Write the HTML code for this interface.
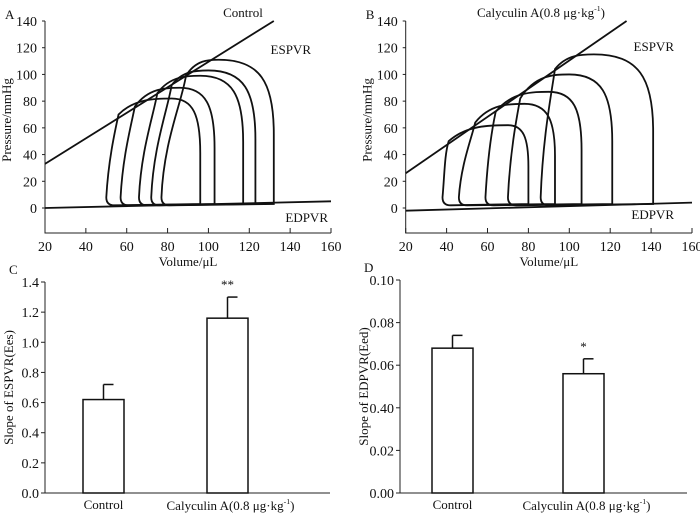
<!DOCTYPE html>
<html><head><meta charset="utf-8"><style>
html,body{margin:0;padding:0;background:#fff}
svg{display:block}
svg text{font-family:"Liberation Serif","Times New Roman",serif;fill:#111}
</style></head><body>
<svg id="fig" width="700" height="513" viewBox="0 0 700 513" font-family="Liberation Serif, serif"></svg>
<script>
// ---- data ----
const volTicks=[20,40,60,80,100,120,140,160];
const presTicks=[0,20,40,60,80,100,120,140];
// loops: [vL, vTop, pTop, vPeak, pPeak, vR]
const loopsA_vL=[50,57,66,72,77];
const loopsA_vT=[56,64,75,82,89];
const loopsA_pT=[70,76,86,92,99];
const loopsA_vPk=[82,86,96,100,105];
const loopsA_pPk=[82,90,99,103,111];
const loopsA_vR=[96,103,117,123,132];
const loopsB_vL=[38,46,59,70,86];
const loopsB_vT=[41,54,64,76,93];
const loopsB_pT=[50,64,72,82,104];
const loopsB_vPk=[70,78,90,100,112];
const loopsB_pPk=[62,78,87,100,115];
const loopsB_vR=[80,93,106,121,141];
const espvrA=[[20,33],[132,140]], edpvrA=[[20,0],[160,5]];
const espvrB=[[20,26],[128,140]], edpvrB=[[20,-2],[160,4]];
const barCats=["Control","Calyculin A(0.8 μg·kg"];
const esValues=[0.62,1.16], esErr=[0.10,0.14];
const edValues=[0.068,0.056], edErr=[0.006,0.007];
const esTicks=["0.0","0.2","0.4","0.6","0.8","1.0","1.2","1.4"];
const edTicks=["0.00","0.02","0.40","0.06","0.08","0.10"];
const NS="http://www.w3.org/2000/svg";
const svg=document.getElementById('fig');
function mk(tag,attrs,parent,txt){const e=document.createElementNS(NS,tag);for(const k in attrs)e.setAttribute(k,attrs[k]);if(txt!==undefined)e.textContent=txt;(parent||svg).appendChild(e);return e;}
function txt(x,y,s,anchor,size,name,extra){const t=mk('text',Object.assign({x:x,y:y,'text-anchor':anchor||'middle','font-size':size||13,'font-family':'Liberation Serif, serif'},extra||{}),svg,s);


return t;}
function supTxt(x,y,base,anchor,size,name){
  const t=txt(x,y,base,anchor,size,name);
  mk('tspan',{'font-size':size*0.6,dy:-size*0.45},t,'-1');
  mk('tspan',{'font-size':size,dy:size*0.45},t,')');
  return t;
}

function pvPanel(x0,x1,loops,esp,edp,letter,id){
  const X=v=>x0+(v-20)/140*(x1-x0);
  const Y=p=>208-p/140*187;
  const g=mk('g',{});
  
  
  mk('path',{d:`M${x0},21 V233 H${x1}`,stroke:'#222','stroke-width':1,fill:'none'},g);
  presTicks.forEach(p=>{mk('line',{x1:x0-3,x2:x0,y1:Y(p),y2:Y(p),stroke:'#222'},g);
    txt(x0-8,Y(p)+5,String(p),'end',14,'y-tick-label');});
  volTicks.forEach(v=>{mk('line',{x1:X(v),x2:X(v),y1:233,y2:228,stroke:'#222'},g);
    txt(X(v),251,String(v),'middle',14,'x-tick-label');});
  txt((x0+x1)/2,266,'Volume/μL','middle',13,'x-axis-title');
  txt(0,0,'Pressure/mmHg','middle',13,'y-axis-title',{transform:`translate(${x0-34},${120}) rotate(-90)`});
  txt(x0-40,19,letter,'start',13,'panel-label');
  const l1=mk('line',{x1:X(esp[0][0]),y1:Y(esp[0][1]),x2:X(esp[1][0]),y2:Y(esp[1][1]),stroke:'#111','stroke-width':1.8},g);
  
  const l2=mk('line',{x1:X(edp[0][0]),y1:Y(edp[0][1]),x2:X(edp[1][0]),y2:Y(edp[1][1]),stroke:'#111','stroke-width':1.8},g);
  
  const [vL,vT,pT,vPk,pPk,vR]=loops;
  for(let i=0;i<vL.length;i++){
    const d=`M${X(vL[i]+4)},${Y(2)} Q${X(vL[i])},${Y(2)} ${X(vL[i])},${Y(8)}`+
      ` C${X(vL[i]+1)},${Y(pT[i]*0.5)} ${X(vT[i]-2)},${Y(pT[i]*0.8)} ${X(vT[i])},${Y(pT[i])}`+
      ` C${X(vT[i]+(vPk[i]-vT[i])*0.3)},${Y(pPk[i])} ${X(vPk[i]-(vPk[i]-vT[i])*0.3)},${Y(pPk[i])} ${X(vPk[i])},${Y(pPk[i])}`+
      ` C${X(vPk[i]+(vR[i]-vPk[i])*0.75)},${Y(pPk[i])} ${X(vR[i])},${Y(pPk[i]*0.85)} ${X(vR[i])},${Y(pPk[i]*0.5)}`+
      ` L${X(vR[i])},${Y(3)} L${X(vL[i]+4)},${Y(2)} Z`;
    const p=mk('path',{d:d,fill:'none',stroke:'#111','stroke-width':1.8},g);
    
    
  }
}
pvPanel(45,331,[loopsA_vL,loopsA_vT,loopsA_pT,loopsA_vPk,loopsA_pPk,loopsA_vR],espvrA,edpvrA,'A','control');
txt(243,17,'Control','middle',13,'panel-title');
txt(311,54,'ESPVR','end',13,'espvr-label');
txt(328,222,'EDPVR','end',13,'edpvr-label');
pvPanel(405.7,692,[loopsB_vL,loopsB_vT,loopsB_pT,loopsB_vPk,loopsB_pPk,loopsB_vR],espvrB,edpvrB,'B','calyculin');
supTxt(541,17,'Calyculin A(0.8 μg·kg','middle',13,'panel-title');
txt(674,51,'ESPVR','end',13,'espvr-label');
txt(674,219,'EDPVR','end',13,'edpvr-label');

function barPanel(x0,x1,ytop,ybot,ymax,ticks,vals,errs,barL,barW,stars,letter,ytitle,tickStep){
  const Y=v=>ybot-v/ymax*(ybot-ytop);
  mk('path',{d:`M${x0},${ytop} V${ybot} H${x1}`,stroke:'#222',fill:'none'});
  ticks.forEach((t,i)=>{const y=Y(i*tickStep);mk('line',{x1:x0-4,x2:x0,y1:y,y2:y,stroke:'#222'});
    txt(x0-6,y+5,t,'end',14,'y-tick-label');});
  txt(0,0,ytitle,'middle',13,'y-axis-title',{transform:`translate(${x0-32},${(ytop+ybot)/2}) rotate(-90)`});
  txt(x0-36,ytop-8,letter,'start',13,'panel-label');
  vals.forEach((v,i)=>{
    const cx=barL[i]+barW/2;
    const e=mk('line',{x1:cx,x2:cx,y1:Y(v),y2:Y(v+errs[i]),stroke:'#111','stroke-width':1.5});
    
    mk('line',{x1:cx,x2:cx+10,y1:Y(v+errs[i]),y2:Y(v+errs[i]),stroke:'#111','stroke-width':1.5});
    const r=mk('rect',{x:barL[i],y:Y(v),width:barW,height:ybot-Y(v),fill:'#fff',stroke:'#111','stroke-width':1.5});
    
    
    if(stars[i])txt(cx,Y(v+errs[i])-8,stars[i],'middle',13,'significance-marker');
    if(i===0)txt(cx,ybot+16,barCats[0],'middle',13,'x-category-label');
    else supTxt(cx+3,ybot+17,barCats[1],'middle',13,'x-category-label');
  });
}
barPanel(45,330,282,493,1.4,esTicks,esValues,esErr,[83,207],41,['','**'],'C','Slope of ESPVR(Ees)',0.2);
barPanel(400,687,280,493,0.10,edTicks,edValues,edErr,[432,563],41,['','*'],'D','Slope of EDPVR(Eed)',0.02);
</script>
</body></html>
